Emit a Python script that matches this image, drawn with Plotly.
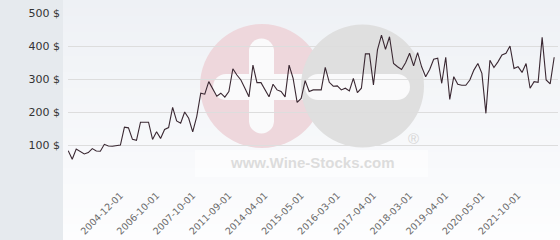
import plotly.graph_objects as go

# ---- data ----
prices = [83, 57, 88, 80, 73, 77, 89, 82, 81, 102,
          97, 96, 98, 100, 154, 152, 117, 114, 169, 169,
          169, 117, 140, 120, 147, 153, 214, 173, 166, 200,
          181, 140, 186, 257, 254, 292, 272, 248, 257, 245,
          262, 331, 312, 297, 272, 246, 342, 289, 289, 268,
          246, 284, 267, 262, 246, 342, 302, 229, 241, 295,
          262, 267, 267, 267, 335, 290, 278, 279, 267, 272,
          264, 302, 259, 272, 376, 376, 282, 388, 433, 390,
          428, 347, 337, 329, 349, 378, 340, 380, 337, 307,
          329, 360, 363, 287, 366, 238, 307, 284, 281, 281,
          297, 327, 347, 317, 196, 357, 335, 352, 373, 378,
          400, 332, 337, 320, 347, 272, 292, 290, 426, 297,
          285, 366]
tick_labels = ["2004-12-01", "2006-10-01", "2007-10-01", "2011-09-01",
               "2014-04-01", "2015-05-01", "2016-03-01", "2017-04-01",
               "2018-03-01", "2019-04-01", "2020-05-01", "2021-10-01"]
tick_index = [13, 22, 31, 40, 49, 58, 67, 76, 85, 94, 103, 112]
y_ticks = [0, 100, 200, 300, 400, 500]
y_tick_labels = ["", "100 $", "200 $", "300 $", "400 $", "500 $"]

# ---- layout geometry (pixels) ----
W, H = 560, 240
ML, MR, MT, MB = 68, 2, 13, 62
PW, PH = W - ML - MR, H - MT - MB


def px(x):
    return (x - ML) / PW


def py(y):
    return (H - MB - y) / PH


shapes = []


def rect(x0, y0, x1, y1, color, opacity=1.0):
    shapes.append(dict(type="rect", xref="paper", yref="paper",
                       x0=px(x0), x1=px(x1), y0=py(y1), y1=py(y0),
                       fillcolor=color, opacity=opacity,
                       line=dict(width=0), layer="below"))


def circle(cx, cy, r, color):
    shapes.append(dict(type="circle", xref="paper", yref="paper",
                       x0=px(cx - r), x1=px(cx + r), y0=py(cy + r), y1=py(cy - r),
                       fillcolor=color, line=dict(width=0), layer="below"))


# background gradient for the chart area
top = (238, 241, 245)
bot = (253, 253, 254)
nb = 30
for i in range(nb):
    t = i / (nb - 1)
    c = tuple(round(top[k] + (bot[k] - top[k]) * t) for k in range(3))
    rect(63, H * i / nb, W, H * (i + 1) / nb + 0.5, "rgb(%d,%d,%d)" % c)
# left grey panel
rect(0, 0, 63, H, "#e6eaee")

# watermark
rect(195, 150, 428, 177, "#ffffff", 0.55)
circle(262, 86, 62, "#eed7dc")
# white cross in pink circle
rect(249, 50, 274, 122, "#fafafb")
circle(261.5, 51, 12.5, "#fafafb")
circle(261.5, 121, 12.5, "#fafafb")
rect(226, 74, 330, 100, "#fafafb")
circle(226, 87, 13, "#fafafb")
# grey circle with white bar
circle(362.5, 86, 61.5, "#dfdfdf")
rect(318, 74, 397, 100, "#fafafb")
circle(318, 87, 13, "#fafafb")
circle(397, 87, 13, "#fafafb")

annotations = [
    dict(text="<b>www.Wine-Stocks.com</b>", xref="paper", yref="paper",
         x=px(312), y=py(162), showarrow=False,
         font=dict(family="Liberation Sans", size=15, color="#dcdcdc"),
         xanchor="center", yanchor="middle"),
    dict(text="®", xref="paper", yref="paper",
         x=px(413), y=py(138), showarrow=False,
         font=dict(family="Liberation Sans", size=15, color="#d6d6d6"),
         xanchor="center", yanchor="middle"),
]

fig = go.Figure()
fig.add_trace(go.Scatter(
    x=list(range(len(prices))), y=prices, mode="lines",
    line=dict(color="#3a2832", width=1.1),
    hoverinfo="skip", showlegend=False))

fig.update_layout(
    width=W, height=H,
    margin=dict(l=ML, r=MR, t=MT, b=MB, pad=0),
    paper_bgcolor="#ffffff",
    plot_bgcolor="rgba(0,0,0,0)",
    shapes=shapes,
    annotations=annotations,
    showlegend=False,
    xaxis=dict(range=[-0.05, len(prices) - 0.05], showgrid=False,
               zeroline=False, showline=False, ticks="",
               tickmode="array", tickvals=tick_index, ticktext=tick_labels,
               tickangle=-45, ticklabelstandoff=9,
               tickfont=dict(family="DejaVu Sans", size=9.5, color="#6a6a6a")),
    yaxis=dict(range=[0, 500], tickmode="array", tickvals=y_ticks,
               ticktext=y_tick_labels, showgrid=True, gridcolor="#dddddd",
               gridwidth=1, zeroline=False, showline=False, ticks="",
               ticklabelstandoff=7,
               tickfont=dict(family="DejaVu Sans", size=11, color="#333333")),
)

fig.write_html("out.html")
